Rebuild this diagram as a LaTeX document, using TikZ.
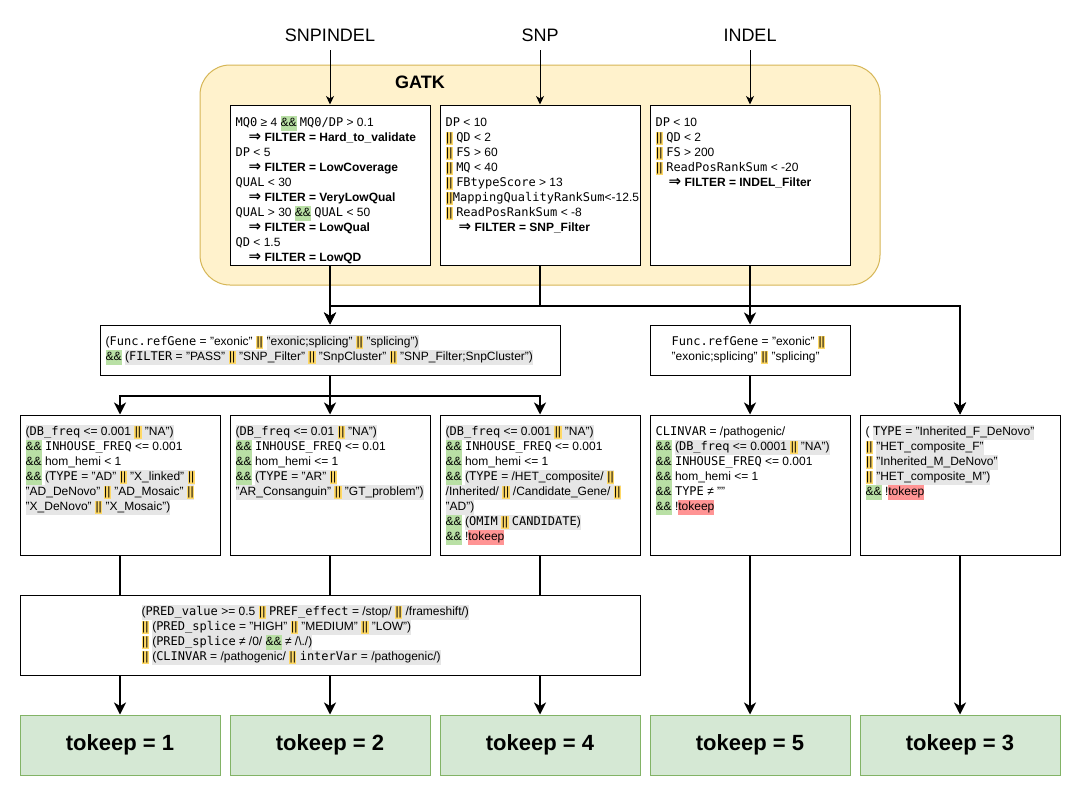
\documentclass[tikz,border=0pt]{standalone}
\usepackage{fontspec}
\setmainfont{Liberation Sans}
\setmonofont{DejaVu Sans Mono}
\newfontfamily\symf{DejaVu Sans}
\usetikzlibrary{positioning,arrows.meta}

\definecolor{gatkfill}{HTML}{FFF2CC}
\definecolor{gatkline}{HTML}{D6B656}
\definecolor{keepfill}{HTML}{D5E8D4}
\definecolor{keepline}{HTML}{82B366}
\definecolor{codegrey}{HTML}{E6E6E6}
\definecolor{orfill}{HTML}{FFD966}
\definecolor{andfill}{HTML}{B9E0A5}
\definecolor{tkfill}{HTML}{FF9494}

\newcommand{\lstrut}{\rule[-4pt]{0pt}{15pt}}
\newcommand{\cd}[1]{\texttt{#1}}
\newcommand{\hlg}[1]{{\fboxsep=0pt\colorbox{codegrey}{\lstrut#1}}}
\newcommand{\orop}{{\fboxsep=0pt\colorbox{orfill}{\rule[-3pt]{0pt}{13pt}\kern0.5pt||\kern0.5pt}}}
\newcommand{\andop}{{\fboxsep=0pt\colorbox{andfill}{\lstrut\&\&}}}
\newcommand{\tkv}{{\fboxsep=0pt\colorbox{tkfill}{\lstrut tokeep}}}
\newcommand{\setflt}[1]{\hspace*{13pt}{\symf\bfseries\fontsize{15}{15}\selectfont ⇒} \textbf{FILTER = #1}}

\begin{document}
\begin{tikzpicture}[
    x=1pt, y=-1pt,
    >={Stealth[length=5pt 3.5,width=4pt 4,inset=1.5pt 1]},
    gatkgroup/.style={draw=gatkline, fill=gatkfill, line width=1pt, rounded corners=30pt, minimum width=680pt, minimum height=220pt},
    rulebox/.style={draw, fill=white, line width=1pt, minimum width=200pt, minimum height=160pt, inner sep=0pt},
    condbox/.style={draw, fill=white, line width=1pt, minimum width=200pt, minimum height=140pt, inner sep=0pt},
    genebox/.style={draw, fill=white, line width=1pt, minimum height=50pt, inner sep=0pt},
    keepbox/.style={draw=keepline, fill=keepfill, line width=1pt, minimum width=200pt, minimum height=60pt, font=\fontsize{22}{26}\selectfont\bfseries},
    txt/.style={anchor=north west, inner sep=0pt, align=left, font=\fontsize{12}{15}\selectfont},
    src/.style={minimum height=30pt, inner sep=0pt, font=\fontsize{18}{22}\selectfont},
    feed/.style={->, line width=1pt},
    flow/.style={->, line width=2pt},
    link/.style={line width=2pt}
  ]
  \fill[white] (0,0) rectangle (1081,796);
  \useasboundingbox (0,0) rectangle (1081,796);

  % GATK filters
  \node[gatkgroup] (gatk) at (540,175) {};
  \node[font=\fontsize{18}{22}\selectfont\bfseries] (gatklabel) at (420,82) {GATK};
  \node[src] (snpindel) at (330,35) {SNPINDEL};
  \node[src] (snp) at (540,35) {SNP};
  \node[src] (indel) at (750,35) {INDEL};
  \node[rulebox] (ruleall) at (330,185) {};
  \node[rulebox] (rulesnp) at (540,185) {};
  \node[rulebox] (ruleindel) at (750,185) {};

  \node[txt, below right=11pt and 6pt of ruleall.north west] (tall) {\lstrut\cd{MQ0} ≥ 4 \andop{} \cd{MQ0/DP} > 0.1\\
    \setflt{Hard\_to\_validate}\\
    \cd{DP} < 5\\
    \setflt{LowCoverage}\\
    \cd{QUAL} < 30\\
    \setflt{VeryLowQual}\\
    \cd{QUAL} > 30 \andop{} \cd{QUAL} < 50\\
    \setflt{LowQual}\\
    \cd{QD} < 1.5\\
    \setflt{LowQD}};
  \node[txt, below right=11pt and 6pt of rulesnp.north west] (tsnp) {\lstrut\cd{DP} < 10\\
    \orop{} \cd{QD} < 2\\
    \orop{} \cd{FS} > 60\\
    \orop{} \cd{MQ} < 40\\
    \orop{} \cd{FBtypeScore} > 13\\
    \orop\cd{MappingQualityRankSum}<-12.5\\
    \orop{} \cd{ReadPosRankSum} < -8\\
    \setflt{SNP\_Filter}};
  \node[txt, below right=11pt and 6pt of ruleindel.north west] (tindel) {\lstrut\cd{DP} < 10\\
    \orop{} \cd{QD} < 2\\
    \orop{} \cd{FS} > 200\\
    \orop{} \cd{ReadPosRankSum} < -20\\
    \setflt{INDEL\_Filter}};

  % gene function
  \node[genebox, minimum width=460pt] (gene) at (330,350) {};
  \node[genebox, minimum width=200pt] (geneindel) at (750,350) {};
  \node[txt, below right=10pt and 6pt of gene.north west] (tgene) {\lstrut(\cd{Func.refGene} = "exonic" \orop{} \hlg{"exonic;splicing" \orop{} "splicing")}\\
    \andop{} \hlg{(\cd{FILTER} = "PASS" \orop{} "SNP\_Filter" \orop{} "SnpCluster" \orop{} "SNP\_Filter;SnpCluster")}};
  \node[txt, below right=10pt and 22pt of geneindel.north west] (tgeneindel) {\lstrut\cd{Func.refGene} = "exonic" \orop\\
    "exonic;splicing" \orop{} "splicing"};

  % inheritance conditions
  \node[condbox] (cad) at (120,485) {};
  \node[condbox] (car) at (330,485) {};
  \node[condbox] (chet) at (540,485) {};
  \node[condbox] (cclin) at (750,485) {};
  \node[condbox] (cdenovo) at (960,485) {};

  \node[txt, below right=10pt and 6pt of cad.north west] (tad) {\hlg{(\cd{DB\_freq} <= 0.001 \orop{} "NA")}\\
    \andop{} \cd{INHOUSE\_FREQ} <= 0.001\\
    \andop{} hom\_hemi < 1\\
    \andop{} \hlg{(\cd{TYPE} = "AD" \orop{} "X\_linked" \orop}\\
    \hlg{"AD\_DeNovo" \orop{} "AD\_Mosaic" \orop}\\
    \hlg{"X\_DeNovo" \orop{} "X\_Mosaic")}};
  \node[txt, below right=10pt and 6pt of car.north west] (tar) {\hlg{(\cd{DB\_freq} <= 0.01 \orop{} "NA")}\\
    \andop{} \cd{INHOUSE\_FREQ} <= 0.01\\
    \andop{} hom\_hemi <= 1\\
    \andop{} \hlg{(\cd{TYPE} = "AR" \orop}\\
    \hlg{"AR\_Consanguin" \orop{} "GT\_problem")}};
  \node[txt, below right=10pt and 6pt of chet.north west] (thet) {\hlg{(\cd{DB\_freq} <= 0.001 \orop{} "NA")}\\
    \andop{} \cd{INHOUSE\_FREQ} <= 0.001\\
    \andop{} hom\_hemi <= 1\\
    \andop{} \hlg{(\cd{TYPE} = /HET\_composite/ \orop}\\
    \hlg{/Inherited/ \orop{} /Candidate\_Gene/ \orop}\\
    \hlg{"AD")}\\
    \andop{} \hlg{(\cd{OMIM} \orop{} \cd{CANDIDATE})}\\
    \andop{} !\tkv};
  \node[txt, below right=10pt and 6pt of cclin.north west] (tclin) {\lstrut\cd{CLINVAR} = /pathogenic/\\
    \andop{} \hlg{(\cd{DB\_freq} <= 0.0001 \orop{} "NA")}\\
    \andop{} \cd{INHOUSE\_FREQ} <= 0.001\\
    \andop{} hom\_hemi <= 1\\
    \andop{} \cd{TYPE} ≠ ""\\
    \andop{} !\tkv};
  \node[txt, below right=10pt and 6pt of cdenovo.north west] (tdenovo) {\lstrut( \hlg{\cd{TYPE} = "Inherited\_F\_DeNovo"}\\
    \orop{} \hlg{"HET\_composite\_F"}\\
    \orop{} \hlg{"Inherited\_M\_DeNovo"}\\
    \orop{} \hlg{"HET\_composite\_M")}\\
    \andop{} !\tkv};

  % pathogenicity
  \node[genebox, minimum width=620pt, minimum height=80pt] (pred) at (330,635) {};
  \node[txt, below right=10pt and 122pt of pred.north west] (tpred) {\hlg{(\cd{PRED\_value} >= 0.5 \orop{} \cd{PREF\_effect} = /stop/ \orop{} /frameshift/)}\\
    \orop{} \hlg{(\cd{PRED\_splice} = "HIGH" \orop{} "MEDIUM" \orop{} "LOW")}\\
    \orop{} \hlg{(\cd{PRED\_splice} ≠ /0/ \andop{} ≠ /\textbackslash./)}\\
    \orop{} \hlg{(\cd{CLINVAR} = /pathogenic/ \orop{} \cd{interVar} = /pathogenic/)}};

  % results
  \node[keepbox] (keep1) at (120,745) {tokeep = 1};
  \node[keepbox] (keep2) at (330,745) {tokeep = 2};
  \node[keepbox] (keep4) at (540,745) {tokeep = 4};
  \node[keepbox] (keep5) at (750,745) {tokeep = 5};
  \node[keepbox] (keep3) at (960,745) {tokeep = 3};

  % connectors
  \draw[feed] (snpindel) -- (ruleall);
  \draw[feed] (snp) -- (rulesnp);
  \draw[feed] (indel) -- (ruleindel);
  \draw[flow] (ruleall) -- (gene);
  \draw[flow] (rulesnp.south) -- ++(0,40) -| (gene.north);
  \draw[flow] (ruleall.south) -- ++(0,40) -| (cdenovo.north);
  \draw[flow] (rulesnp.south) -- ++(0,40) -| (cdenovo.north);
  \draw[flow] (ruleindel) -- (geneindel);
  \draw[flow] (gene.south) -- ++(0,20) -| (cad.north);
  \draw[flow] (gene) -- (car);
  \draw[flow] (gene.south) -- ++(0,20) -| (chet.north);
  \draw[flow] (geneindel) -- (cclin);
  \draw[link] (cad.south) -- (cad.south |- pred.north);
  \draw[link] (car) -- (pred);
  \draw[link] (chet.south) -- (chet.south |- pred.north);
  \draw[flow] (keep1.north |- pred.south) -- (keep1);
  \draw[flow] (pred) -- (keep2);
  \draw[flow] (keep4.north |- pred.south) -- (keep4);
  \draw[flow] (cclin) -- (keep5);
  \draw[flow] (cdenovo) -- (keep3);
\end{tikzpicture}
\end{document}
